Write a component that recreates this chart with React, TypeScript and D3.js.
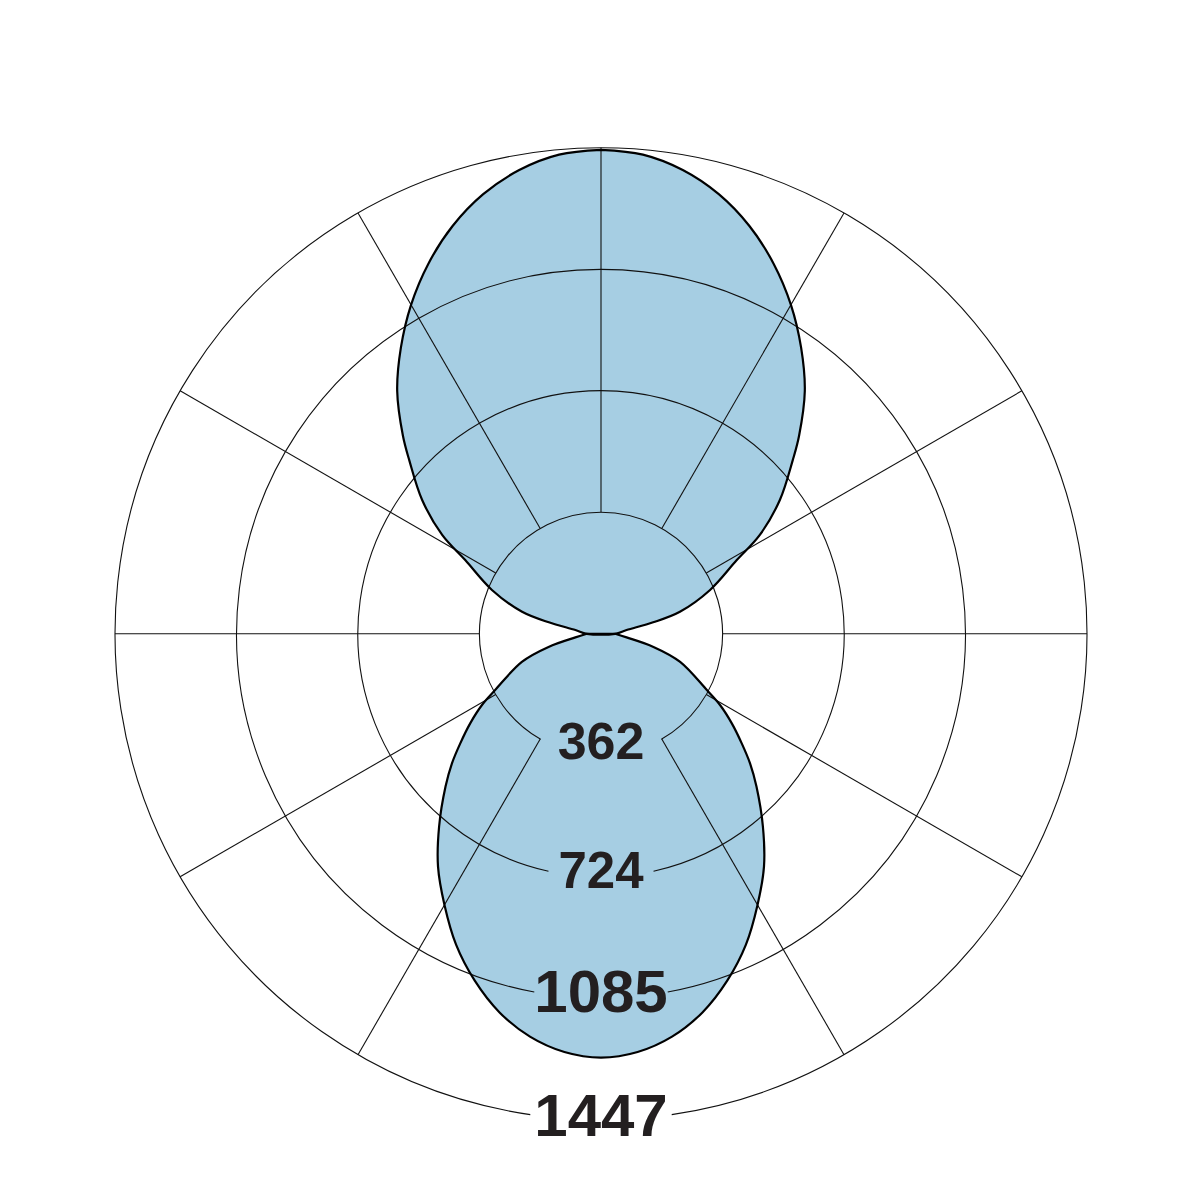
import React from "react";
import * as d3 from "d3";

// polar intensity curve; gamma from nadir (0 = down, 180 = up), symmetric
const gammaDeg = [
  0, 5, 10, 15, 20, 25, 30, 35, 40, 45.5, 49, 52.1, 55.6, 59.1, 62, 70.5, 76, 82, 90,
  98.4, 102.4, 105.6, 111.9, 118.5, 121.9, 126.8, 132.2, 135, 140, 145, 150, 155, 160, 165, 170, 175, 180,
];
const intensity = [
  1262, 1250, 1218, 1167, 1099, 1021, 932, 846, 750, 649, 588, 531, 472, 413, 357, 250, 161, 77, 42,
  77, 159, 244, 350, 460, 557, 665, 771, 834, 944, 1039, 1131, 1216, 1292, 1355, 1402, 1432, 1441,
];
const ringValues = [362, 724, 1085, 1447];
const ringLabels = ["362", "724", "1085", "1447"];
const spokeDeg = [30, 60, 90, 120, 150, 180, 210, 240, 270, 300, 330];

const width = 1201;
const height = 1201;
const cx = 601;
const cy = 633.8;
const maxR = 486;

export default function App() {
  const r = d3.scaleLinear().domain([0, 1447]).range([0, maxR]);
  const rad = (d: number) => (d * Math.PI) / 180;

  const line = d3
    .lineRadial<[number, number]>()
    .angle((d) => d[0])
    .radius((d) => r(d[1]))
    .curve(d3.curveCatmullRom.alpha(0.5));

  // lower lobe: left tip -> nadir -> right tip, closed straight across the centre
  const lower: [number, number][] = [];
  const upper: [number, number][] = [];
  gammaDeg.forEach((g, i) => {
    if (g <= 90) {
      lower.push([Math.PI - rad(g), intensity[i]]);
      lower.unshift([Math.PI + rad(g), intensity[i]]);
    }
    if (g >= 90) {
      upper.push([Math.PI - rad(g), intensity[i]]);
      upper.unshift([Math.PI + rad(g), intensity[i]]);
    }
  });
  // drop duplicated nadir / zenith points
  const dedupe = (a: [number, number][]) =>
    a.filter((p, i) => i === 0 || Math.abs(p[0] - a[i - 1][0]) > 1e-9);
  const lowerPath = line(dedupe(lower)) + "Z";
  const upperPath = line(dedupe(upper)) + "Z";

  const fontSize = [52, 51, 60, 60];
  const labelShift = [-14, -6, -7, -4];
  const gapPad = [17, 10, 0, 4];
  const textHalf = (i: number) => (ringLabels[i].length * 0.556 * fontSize[i]) / 2;

  const rings = ringValues.map((v, i) => {
    const rr = r(v);
    const gap = Math.asin(Math.min(1, (textHalf(i) + gapPad[i]) / rr));
    const p = d3.path();
    const a0 = Math.PI / 2 + gap;
    const a1 = Math.PI / 2 - gap + 2 * Math.PI;
    p.moveTo(rr * Math.cos(a0), rr * Math.sin(a0));
    p.arc(0, 0, rr, a0, a1);
    return p.toString();
  });

  const r0 = r(ringValues[0]);
  const r1 = r(ringValues[ringValues.length - 1]);

  return (
    <svg
      width={width}
      height={height}
      style={{ position: "absolute", left: 0, top: 0, background: "#fff" }}
    >
      <g transform={`translate(${cx},${cy})`}>
        <path d={upperPath} fill="#a6cee3" stroke="none" />
        <path d={lowerPath} fill="#a6cee3" stroke="none" />
        <g fill="none" stroke="#111" strokeWidth={1.1}>
          {rings.map((d, i) => (
            <path key={i} d={d} />
          ))}
          {spokeDeg.map((g) => {
            const s = Math.sin(rad(g));
            const c = Math.cos(rad(g));
            return <line key={g} x1={r0 * s} y1={r0 * c} x2={r1 * s} y2={r1 * c} />;
          })}
        </g>
        <g fill="none" stroke="#000" strokeWidth={2.2} strokeLinejoin="round">
          <path d={upperPath} />
          <path d={lowerPath} />
        </g>
        {ringValues.map((v, i) => (
          <text
            key={v}
            x={0}
            y={r(v) + labelShift[i]}
            textAnchor="middle"
            dominantBaseline="central"
            fontFamily="'Liberation Sans', Arial, Helvetica, sans-serif"
            fontWeight="bold"
            fontSize={fontSize[i]}
            fill="#231f20"
          >
            {ringLabels[i]}
          </text>
        ))}
      </g>
    </svg>
  );
}
